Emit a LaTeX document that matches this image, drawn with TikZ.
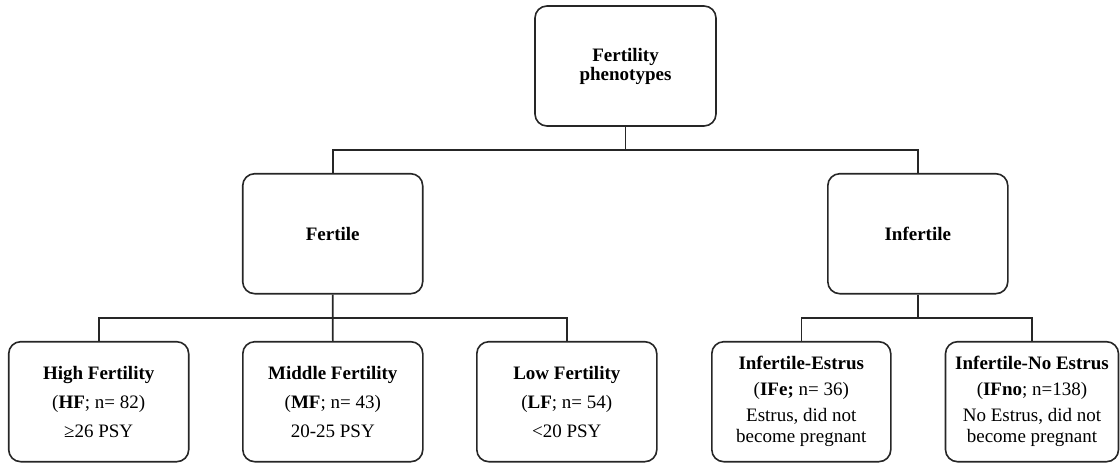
\documentclass[tikz,border=0pt]{standalone}
\usepackage{fontspec}
\setmainfont{Liberation Serif}
\begin{document}
\begin{tikzpicture}[x=1pt,y=-1pt,
  box/.style={draw=black!85, line width=1.6pt, rounded corners=12pt,
    minimum width=180pt, minimum height=120pt, align=center, inner sep=0pt,
    font=\fontsize{19}{21}\selectfont},
  conn/.style={draw=black!85, line width=1.6pt}]
\useasboundingbox (0,0) rectangle (1120,463);
\node[box, minimum width=181pt, font=\fontsize{19}{19}\selectfont\bfseries] (top) at (625.5,66) {Fertility\\phenotypes};
\node[box, font=\fontsize{19}{21}\selectfont\bfseries] (fert) at (332.7,233.7) {Fertile};
\node[box, font=\fontsize{19}{21}\selectfont\bfseries] (infert) at (917.8,233.7) {Infertile};
\node[box] (hf) at (98.7,401.7) {\textbf{High Fertility}\\[8pt](\textbf{HF}; n= 82)\\[8pt]≥26 PSY};
\node[box] (mf) at (332.8,401.7) {\textbf{Middle Fertility}\\[8pt](\textbf{MF}; n= 43)\\[8pt]20-25 PSY};
\node[box] (lf) at (566.8,401.7) {\textbf{Low Fertility}\\[8pt](\textbf{LF}; n= 54)\\[8pt]<20 PSY};
\node[box, minimum width=179pt] (ife) at (801.3,401.7) {\textbf{Infertile-Estrus}\\[5pt](\textbf{IFe;} n= 36)\\[5pt]Estrus, did not\\become pregnant};
\node[box, minimum width=173pt] (ifno) at (1032,401.7) {\textbf{Infertile-No Estrus}\\[5pt](\textbf{IFno}; n=138)\\[5pt]No Estrus, did not\\become pregnant};
\coordinate (j1) at (625.5,150);
\coordinate (j2) at (332.7,317.7);
\coordinate (j3) at (917.8,317.7);
\draw[conn] (top.south) -- (j1);
\draw[conn] (fert.north) |- (j1) -| (infert.north);
\draw[conn] (fert.south) -- (mf.north);
\draw[conn] (hf.north) |- (j2) -| (lf.north);
\draw[conn] (infert.south) -- (j3);
\draw[conn] (ife.north) |- (j3) -| (ifno.north);
\end{tikzpicture}
\end{document}
